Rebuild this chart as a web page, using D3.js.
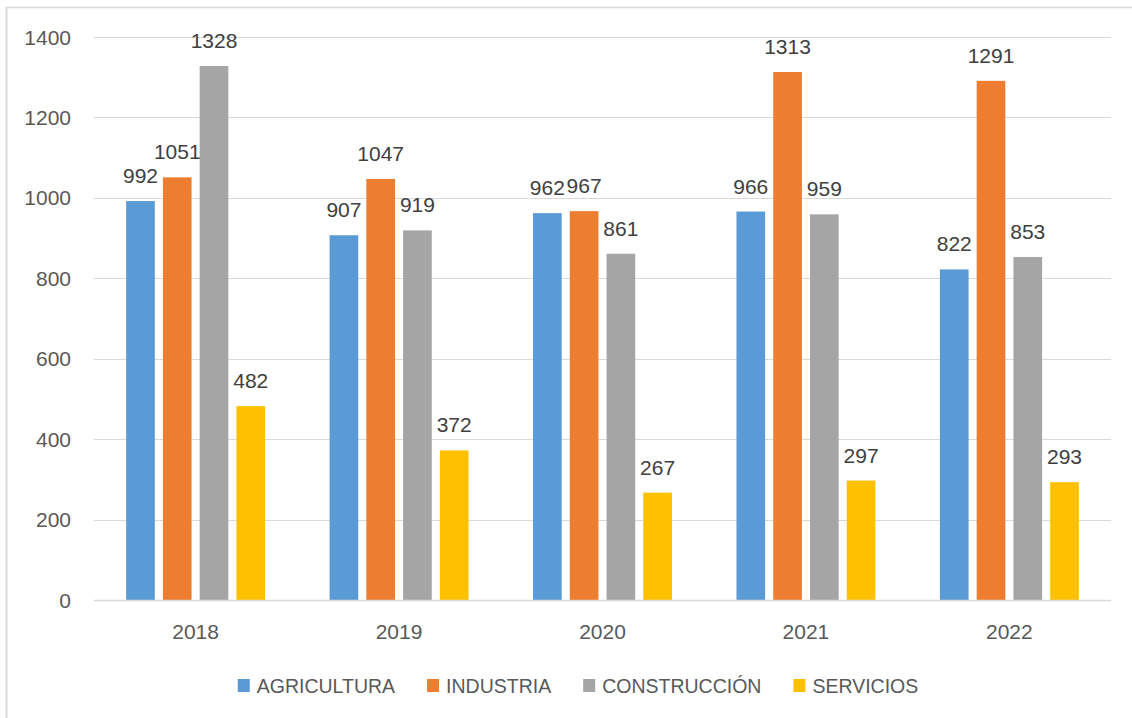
<!DOCTYPE html>
<html>
<head>
  <meta charset="utf-8">
  <style type="text/css">
    body { margin: 0; background: #fff; }
    svg { display: block; font-family: "Liberation Sans", Arial, sans-serif; }
    .grid line { stroke: #d9d9d9; stroke-width: 1; }
    .ytick { fill: #595959; font-size: 21px; }
    .xtick { fill: #595959; font-size: 21px; }
    .lbl { fill: #404040; font-size: 21px; }
    .legend text { fill: #595959; font-size: 19.5px; }
  </style>
</head>
<body>
<svg></svg>
<script src="https://cdn.jsdelivr.net/npm/d3@7"></script>
<script>
    var width = 1132;
    var height = 718;

    var years = ['2018', '2019', '2020', '2021', '2022'];
    var series = ['AGRICULTURA', 'INDUSTRIA', 'CONSTRUCCIÓN', 'SERVICIOS'];
    var colors = ['#5b9bd5', '#ed7d31', '#a5a5a5', '#ffc000'];
    var agricultura = [992, 907, 962, 966, 822];
    var industria = [1051, 1047, 967, 1313, 1291];
    var construccion = [1328, 919, 861, 959, 853];
    var servicios = [482, 372, 267, 297, 293];
    var yTicks = [0, 200, 400, 600, 800, 1000, 1200, 1400];

    var values = [agricultura, industria, construccion, servicios];
    var rows = [];
    years.forEach(function(yr, i) {
      series.forEach(function(s, j) {
        rows.push({ year: yr, series: s, value: values[j][i], color: colors[j] });
      });
    });

    var svg = d3.select('svg')
      .attr('width', width)
      .attr('height', height);

    // chart frame (top and left edges visible)
    svg.append('line').attr('x1', 6).attr('x2', width).attr('y1', 7.5).attr('y2', 7.5)
      .attr('stroke', '#d9d9d9').attr('stroke-width', 1.5);
    svg.append('line').attr('x1', 6.5).attr('x2', 6.5).attr('y1', 7).attr('y2', height)
      .attr('stroke', '#d9d9d9').attr('stroke-width', 2);

    var x = d3.scaleBand().domain(years).range([94, 1111])
      .paddingInner(0.317).paddingOuter(0.158);
    var xs = d3.scaleBand().domain(series).range([0, x.bandwidth()]).paddingInner(0.22);
    var y = d3.scaleLinear().domain([0, 1400]).range([600, 37]);

    // gridlines
    svg.append('g').attr('class', 'grid')
      .selectAll('line').data(yTicks).enter().append('line')
      .attr('x1', 94).attr('x2', 1111)
      .attr('y1', function(d) { return Math.round(y(d)) + 0.5; })
      .attr('y2', function(d) { return Math.round(y(d)) + 0.5; });

    // y tick labels
    svg.append('g').selectAll('text').data(yTicks).enter().append('text')
      .attr('class', 'ytick')
      .attr('x', 71)
      .attr('y', function(d) { return y(d) + 7.5; })
      .attr('text-anchor', 'end')
      .text(function(d) { return d; });

    // bars
    svg.append('g').selectAll('rect').data(rows).enter().append('rect')
      .attr('x', function(d) { return x(d.year) + xs(d.series); })
      .attr('width', xs.bandwidth())
      .attr('y', function(d) { return y(d.value); })
      .attr('height', function(d) { return y(0) - y(d.value); })
      .attr('fill', function(d) { return d.color; });

    // axis line
    svg.append('line').attr('x1', 94).attr('x2', 1111).attr('y1', 600.5).attr('y2', 600.5)
      .attr('stroke', '#d9d9d9').attr('stroke-width', 1.5);

    // data labels
    svg.append('g').selectAll('text').data(rows).enter().append('text')
      .attr('class', 'lbl')
      .attr('x', function(d) { return x(d.year) + xs(d.series) + xs.bandwidth() / 2; })
      .attr('y', function(d) { return y(d.value) - 18; })
      .attr('text-anchor', 'middle')
      .text(function(d) { return d.value; });

    // x labels
    svg.append('g').selectAll('text').data(years).enter().append('text')
      .attr('class', 'xtick')
      .attr('x', function(d) { return x(d) + x.bandwidth() / 2; })
      .attr('y', 639)
      .attr('text-anchor', 'middle')
      .text(function(d) { return d; });

    // legend
    var legend = svg.append('g').attr('class', 'legend');
    var items = legend.selectAll('g').data(series).enter().append('g');
    items.append('rect').attr('width', 12).attr('height', 13).attr('y', 679)
      .attr('fill', function(d, i) { return colors[i]; });
    items.append('text').attr('x', 19).attr('y', 693).text(function(d) { return d; });
    var gap = 32;
    var pos = 0;
    var offsets = [];
    items.each(function() {
      offsets.push(pos);
      pos += 19 + d3.select(this).select('text').node().getComputedTextLength() + gap;
    });
    var total = pos - gap;
    var start = 578 - total / 2;
    items.attr('transform', function(d, i) { return 'translate(' + (start + offsets[i]) + ',0)'; });
</script>
</body>
</html>
